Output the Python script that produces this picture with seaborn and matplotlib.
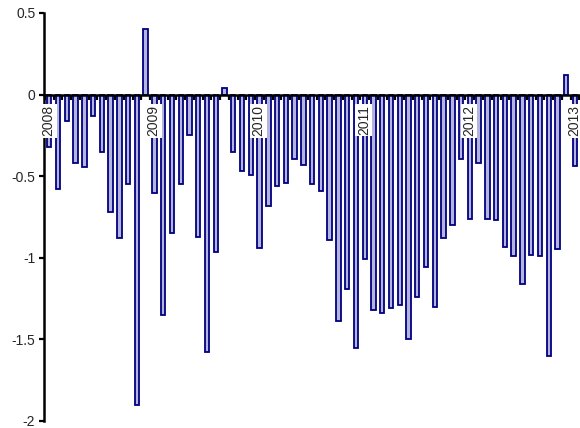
import numpy as np
import pandas as pd
import matplotlib
matplotlib.use("Agg")
import matplotlib.pyplot as plt
import seaborn as sns

# Monthly values, Jan 2008 .. Jan 2013
years = ["2008", "2009", "2010", "2011", "2012", "2013"]
values_2008 = [-0.32, -0.58, -0.16, -0.42, -0.445, -0.13, -0.35, -0.72, -0.88, -0.55, -1.90, 0.40]
values_2009 = [-0.60, -1.35, -0.85, -0.55, -0.25, -0.87, -1.58, -0.965, 0.04, -0.35, -0.47, -0.49]
values_2010 = [-0.94, -0.685, -0.56, -0.54, -0.395, -0.43, -0.55, -0.59, -0.89, -1.39, -1.19, -1.55]
values_2011 = [-1.01, -1.32, -1.34, -1.31, -1.29, -1.50, -1.24, -1.055, -1.30, -0.88, -0.80, -0.395]
values_2012 = [-0.76, -0.42, -0.76, -0.77, -0.935, -0.99, -1.16, -0.985, -0.99, -1.60, -0.945, 0.12]
values_2013 = [-0.44]

y_ticks = [0.5, 0, -0.5, -1, -1.5, -2]
y_tick_labels = ["0.5", "0", "-0.5", "-1", "-1.5", "-2"]

series = [values_2008, values_2009, values_2010, values_2011, values_2012, values_2013]
months, vals = [], []
for yr, vs in zip(years, series):
    for m, v in enumerate(vs, start=1):
        months.append(f"{yr}-{m:02d}")
        vals.append(v)
df = pd.DataFrame({"month": months, "value": vals})

sns.set_style("white")
plt.rcParams["font.family"] = ["Liberation Sans", "DejaVu Sans"]
plt.rcParams["axes.unicode_minus"] = False

fig = plt.figure(figsize=(5.8, 4.28), dpi=100)
ax = fig.add_axes([44.3 / 580, 7 / 428, (580 - 44.3) / 580, 408 / 428])

sns.barplot(data=df, x="month", y="value", order=months, color="#b4b4dc",
            saturation=1, edgecolor="#000080", linewidth=1.3, width=0.5, ax=ax)

n = len(months)
ax.set_xlim(-0.57, n - 1 + 0.57)
ax.set_ylim(-2, 0.5)

# Category axis sits on zero with ticks between months
ax.spines["top"].set_visible(False)
ax.spines["right"].set_visible(False)
ax.spines["bottom"].set_position(("data", 0))
ax.spines["bottom"].set_linewidth(1.8)
ax.spines["bottom"].set_color("black")
ax.spines["left"].set_linewidth(1.8)
ax.spines["left"].set_color("black")
ax.spines["bottom"].set_zorder(5)

ax.set_xticks(np.arange(-0.5, n, 1))
ax.set_xticklabels([])
ax.tick_params(axis="x", direction="out", length=3.5, width=1.6, color="black", bottom=True)
ax.set_yticks(y_ticks)
ax.set_yticklabels(y_tick_labels)
ax.tick_params(axis="y", direction="out", length=3.5, width=1.6, color="black",
               left=True, labelsize=10, pad=3)
ax.set_xlabel("")
ax.set_ylabel("")

# Year labels on each January
for i, mth in enumerate(months):
    if mth.endswith("-01"):
        ax.text(i - 0.1, -0.065, mth[:4], rotation=90, ha="center", va="top", fontsize=10,
                bbox=dict(facecolor="white", edgecolor="none", pad=1.0), zorder=6)

fig.savefig("out.png", dpi=100)
